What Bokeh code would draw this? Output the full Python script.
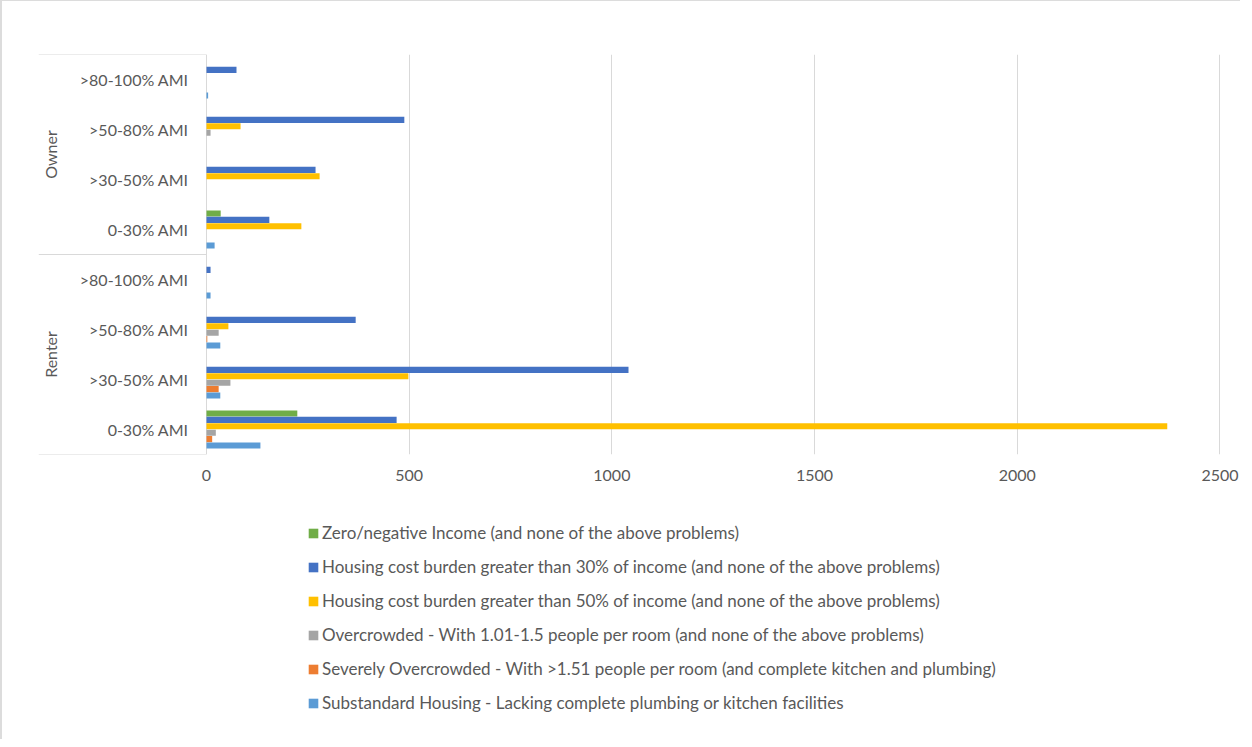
import math
from bokeh.plotting import figure
from bokeh.layouts import column
from bokeh.models import (ColumnDataSource, FactorRange, Range1d, FixedTicker, Legend,
                          LegendItem, LinearAxis)
from bokeh.transform import dodge
from bokeh.core.properties import value
from bokeh.embed import file_html
from bokeh.resources import INLINE

# ---------------- data (top-to-bottom order as shown) ----------------
tenure = ["Owner", "Owner", "Owner", "Owner", "Renter", "Renter", "Renter", "Renter"]
ami = [">80-100% AMI", ">50-80% AMI", ">30-50% AMI", "0-30% AMI",
       ">80-100% AMI", ">50-80% AMI", ">30-50% AMI", "0-30% AMI"]

zero_income = [0, 0, 0, 35, 0, 0, 0, 224]
cost_30 = [74, 488, 269, 155, 10, 368, 1041, 469]
cost_50 = [0, 84, 279, 234, 0, 54, 498, 2370]
overcrowded = [0, 10, 0, 0, 0, 30, 59, 23]
severe_over = [0, 0, 0, 0, 0, 2, 30, 14]
substandard = [4, 0, 0, 20, 10, 34, 34, 133]

series_names = [
    "Zero/negative Income (and none of the above problems)",
    "Housing cost burden greater than 30% of income (and none of the above problems)",
    "Housing cost burden greater than 50% of income (and none of the above problems)",
    "Overcrowded - With 1.01-1.5 people per room (and none of the above problems)",
    "Severely Overcrowded - With >1.51 people per room (and complete kitchen and plumbing)",
    "Substandard Housing - Lacking complete plumbing or kitchen facilities",
]
series_values = [zero_income, cost_30, cost_50, overcrowded, severe_over, substandard]
series_colors = ["#70AD47", "#4472C4", "#FFC000", "#A5A5A5", "#ED7D31", "#5B9BD5"]

x_ticks = [0, 500, 1000, 1500, 2000, 2500]

# ---------------- styling ----------------
FONT = "Lato"
TXT = "#595959"
LINE = "#d9d9d9"

factors = list(zip(tenure, ami))
y_range = FactorRange(*reversed(factors), factor_padding=0, group_padding=0,
                      subgroup_padding=0, range_padding=0)

FRAME_W = 1192
LABEL_PX = 168               # width of the category label area inside the frame
X_MAX = 2526
px_per_unit = (FRAME_W - LABEL_PX) / X_MAX
x_start = -LABEL_PX / px_per_unit
TOTAL_W = 36 + FRAME_W + 10

p = figure(y_range=y_range, x_range=Range1d(x_start, X_MAX),
           frame_width=FRAME_W, frame_height=400,
           min_border_left=36, min_border_top=53, min_border_right=10, min_border_bottom=60,
           output_backend="svg", toolbar_location=None, x_axis_location=None)
p.outline_line_color = None
p.yaxis.visible = False
p.ygrid.visible = False
p.background_fill_color = "white"
p.border_fill_color = "white"

ticker = FixedTicker(ticks=x_ticks)
xaxis = LinearAxis(ticker=ticker)
xaxis.axis_line_color = None
xaxis.major_tick_line_color = None
xaxis.minor_tick_line_color = None
xaxis.major_tick_out = 0
xaxis.major_label_standoff = 15
xaxis.major_label_text_font = FONT
xaxis.major_label_text_font_size = "16px"
xaxis.major_label_text_color = TXT
p.add_layout(xaxis, "below")
p.xgrid.ticker = ticker
p.xgrid.grid_line_color = LINE
p.xgrid.grid_line_width = 1

# ---------------- bars ----------------
src = ColumnDataSource(data=dict(cat=factors, **{f"s{i}": v for i, v in enumerate(series_values)}))
step = 0.128
for i, color in enumerate(series_colors):
    p.hbar(y=dodge("cat", (2.5 - i) * step, range=p.y_range), right=f"s{i}", left=0,
           height=0.122, source=src, fill_color=color, line_color=None)

# ---------------- category box lines ----------------
bounds_y = [("Owner", ">80-100% AMI", 0.5), ("Owner", "0-30% AMI", -0.5), ("Renter", "0-30% AMI", -0.5)]
p.segment(x0=[x_start] * 3, x1=[0] * 3, y0=bounds_y, y1=bounds_y,
          line_color=LINE, line_width=1.2)

# ---------------- category labels ----------------
lab_src = ColumnDataSource(data=dict(cat=factors, txt=ami, x=[0] * len(ami)))
p.text(x="x", y="cat", text="txt", source=lab_src, x_offset=-18,
       text_align="right", text_baseline="middle", text_font=value(FONT),
       text_font_size="16px", text_color=TXT)

groups = ["Owner", "Renter"]
grp_src = ColumnDataSource(data=dict(g=groups, x=[x_start] * 2))
p.text(x="x", y="g", text="g", source=grp_src, x_offset=12, angle=math.pi / 2,
       text_align="center", text_baseline="middle", text_font=value(FONT),
       text_font_size="16px", text_color=TXT)

# ---------------- legend (own panel below the chart) ----------------
lg = figure(width=TOTAL_W, height=225, min_border=0, output_backend="svg",
            toolbar_location=None, x_axis_location=None, y_axis_location=None,
            x_range=Range1d(0, 1), y_range=Range1d(0, 1))
lg.outline_line_color = None
lg.grid.visible = False
lg.background_fill_color = "white"
lg.border_fill_color = "white"
items = []
for name, color in zip(series_names, series_colors):
    # swatch-only renderer: a single bar with no length, so nothing is drawn in the panel
    r = lg.hbar(y=[0.5], right=[math.nan], left=[0], height=0.1,
                fill_color=color, line_color=None)
    items.append(LegendItem(label=name, renderers=[r]))
legend = Legend(items=items, location=(269, 26), orientation="vertical",
                glyph_width=12, glyph_height=12, label_height=21, label_standoff=3,
                spacing=13, padding=0, margin=0, border_line_color=None,
                background_fill_alpha=0, label_text_font=FONT,
                label_text_font_size="17px", label_text_color=TXT)
lg.add_layout(legend, "center")

layout = column(p, lg, spacing=0,
                styles={"border-left": "2px solid #dcdcdc", "border-top": "1px solid #dcdcdc"})

open("out.html", "w").write(file_html(layout, INLINE))
